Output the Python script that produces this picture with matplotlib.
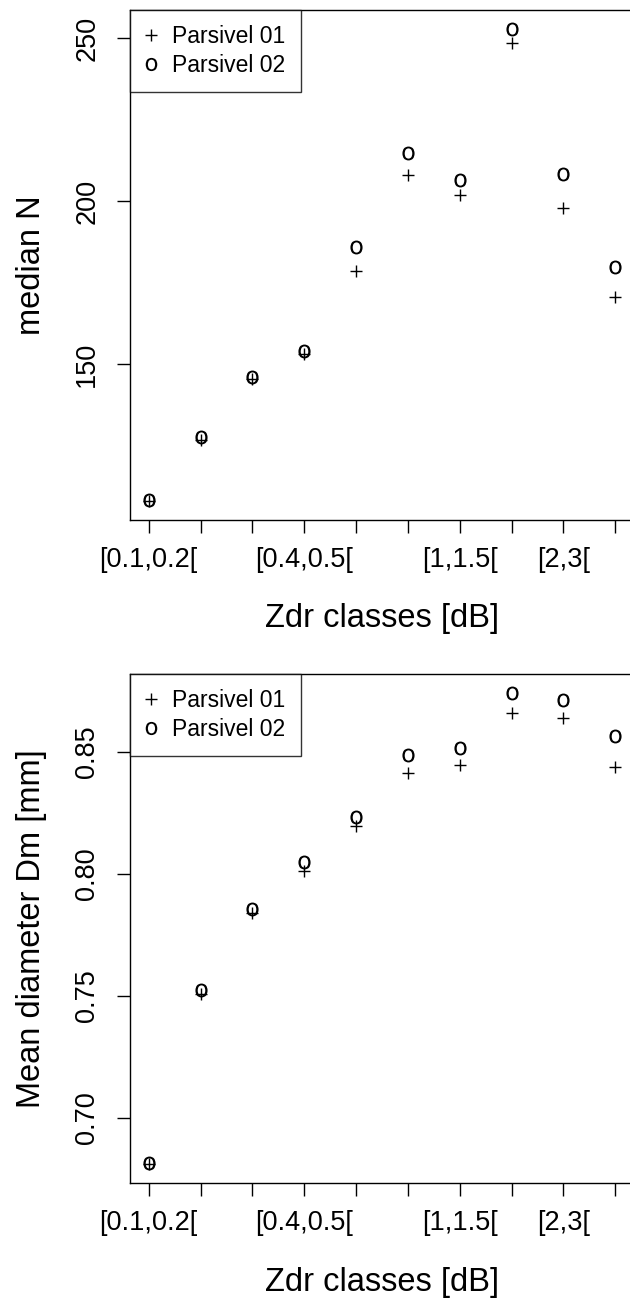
import matplotlib
matplotlib.use("Agg")
import matplotlib.pyplot as plt
import numpy as np

plt.rcParams['font.family'] = ['Liberation Sans', 'DejaVu Sans']

# ---- data ----
classes = ["[0.1,0.2[", "[0.2,0.3[", "[0.3,0.4[", "[0.4,0.5[", "[0.5,0.75[",
           "[0.75,1[", "[1,1.5[", "[1.5,2[", "[2,3[", "[3,4["]
shown_labels = ["[0.1,0.2[", "[0.4,0.5[", "[1,1.5[", "[2,3["]

medN_p1 = [108.0, 126.8, 145.3, 153.2, 178.7, 208.0, 201.8, 248.5, 197.9, 170.6]
medN_p2 = [108.3, 127.6, 146.2, 154.0, 186.0, 214.7, 206.6, 252.8, 208.3, 179.8]

dm_p1 = [0.6810, 0.7508, 0.7838, 0.8012, 0.8198, 0.8414, 0.8448, 0.8659, 0.8639, 0.8437]
dm_p2 = [0.6815, 0.7522, 0.7855, 0.8049, 0.8232, 0.8488, 0.8516, 0.8742, 0.8713, 0.8564]

legend_labels = ["Parsivel 01", "Parsivel 02"]
ylabels = ["median N", "Mean diameter Dm [mm]"]
xlabel = "Zdr classes [dB]"
yticks_top = [150, 200, 250]
yticks_bot = [0.70, 0.75, 0.80, 0.85]
ytl_bot = ["0.70", "0.75", "0.80", "0.85"]

W, H = 630, 1302
fig = plt.figure(figsize=(W / 100, H / 100), dpi=100)

def fx(px):
    return px / W

def fy(py):
    return 1 - py / H

panels = [
    dict(top=10, bottom=520, s1=medN_p1, s2=medN_p2, yt=yticks_top,
         ytl=[str(v) for v in yticks_top], yl=ylabels[0], xlab_base=627),
    dict(top=674, bottom=1183, s1=dm_p1, s2=dm_p2, yt=yticks_bot,
         ytl=ytl_bot, yl=ylabels[1], xlab_base=1291),
]

left_px, right_px = 130, 634
x = np.arange(1, len(classes) + 1)

for p in panels:
    ax = fig.add_axes([fx(left_px), fy(p['bottom']), fx(right_px - left_px),
                       (p['bottom'] - p['top']) / H])
    ax.plot(x, p['s1'], linestyle='none', marker='+', markersize=9,
            markeredgewidth=1.0, color='black', label=legend_labels[0])
    ax.plot(x, p['s2'], linestyle='none', marker=r'$\mathsf{o}$', markersize=10,
            markeredgewidth=0, color='black', label=legend_labels[1])
    allv = np.concatenate([p['s1'], p['s2']])
    lo, hi = allv.min(), allv.max()
    r = hi - lo
    ax.set_ylim(lo - 0.04 * r, hi + 0.04 * r)
    ax.set_xlim(1 - 0.04 * (len(x) - 1), len(x) + 0.04 * (len(x) - 1))
    ax.set_xticks(x)
    ax.set_xticklabels([c if c in shown_labels else "" for c in classes])
    ax.set_yticks(p['yt'])
    ax.set_yticklabels(p['ytl'], rotation=90, va='center')
    ax.tick_params(axis='both', direction='out', length=9.5, width=1.0,
                   labelsize=19.5, color='black')
    ax.tick_params(axis='x', pad=10)
    ax.tick_params(axis='y', pad=12)
    for s in ax.spines.values():
        s.set_linewidth(1.0)
    leg = ax.legend(loc='upper left', bbox_to_anchor=(0, 1), borderaxespad=0,
                    fontsize=16.5, frameon=True, fancybox=False, handlelength=0.55,
                    handletextpad=0.65, labelspacing=0.25, borderpad=0.65,
                    markerscale=0.95)
    leg.get_frame().set_edgecolor('black')
    leg.get_frame().set_linewidth(1.0)
    fig.text(fx(32), fy((p['top'] + p['bottom']) / 2), p['yl'], rotation=90,
             ha='center', va='center', fontsize=23.5)
    fig.text(fx((left_px + right_px) / 2), fy(p['xlab_base']), xlabel,
             ha='center', va='baseline', fontsize=23.5)

fig.savefig("out.png", dpi=100)
